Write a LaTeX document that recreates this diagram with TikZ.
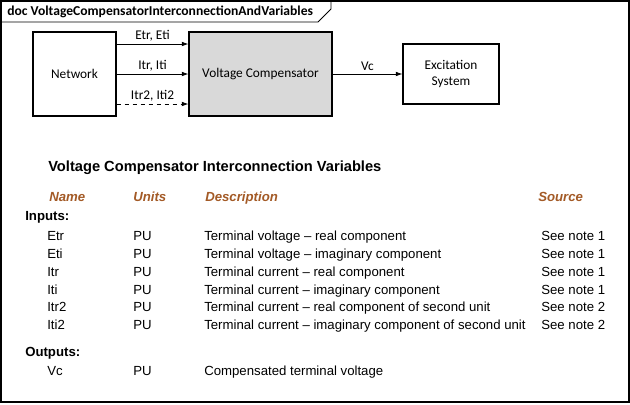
\documentclass[tikz,border=0pt]{standalone}
\usepackage{fontspec}
\setmainfont{Liberation Sans}
\newfontfamily\diagfont{Carlito}
\usetikzlibrary{arrows.meta,positioning}
\definecolor{boxgray}{HTML}{D9D9D9}
\definecolor{headbrown}{HTML}{A35A26}

\begin{document}
\begin{tikzpicture}[x=0.75pt,y=-0.75pt,
  block/.style={draw,line width=0.8pt,inner sep=0pt,align=center,
    font=\diagfont\fontsize{10}{12}\selectfont},
  sig/.style={-{Latex[length=5pt,width=3.5pt]},line width=0.6pt},
  siglbl/.style={font=\diagfont\fontsize{10}{12}\selectfont,inner sep=2pt},
  cell/.style={anchor=base west,inner sep=0pt,font=\fontsize{9.9}{12}\selectfont},
  colhead/.style={cell,text=headbrown,font=\fontsize{9.9}{12}\selectfont\bfseries\itshape},
  grouphead/.style={cell,font=\fontsize{9.9}{12}\selectfont\bfseries}]
\useasboundingbox (0,0) rectangle (630,404);

% Frame with name tab
\draw[line width=0.8pt] (1,1) rectangle (629,402);
\draw[line width=0.6pt] (1,22) -- (318,22) -- (331,9) -- (331,1);
\node[anchor=west,inner sep=0pt,font=\diagfont\fontsize{10.2}{12}\selectfont\bfseries] (doc) at (7,12)
  {doc VoltageCompensatorInterconnectionAndVariables};

% Blocks
\node[block,minimum width=62.25pt,minimum height=63pt] (net) at (74.5,74) {Network};
\node[block,fill=boxgray,minimum width=107.25pt,minimum height=63pt] (comp) at (260.5,74) {Voltage Compensator};
\node[block,minimum width=72pt,minimum height=45pt] (exc) at (451,74) {Excitation\\System};

% Signals into the compensator
\draw[sig] ([yshift=22.5pt]net.east) -- node[siglbl,above] (lE) {Etr, Eti} ([yshift=22.5pt]comp.west);
\draw[sig] (net.east) -- node[siglbl,above] (lI) {Itr, Iti} (comp.west);
\draw[sig,dashed] ([yshift=-22.5pt]net.east) -- node[siglbl,above] (lI2) {Itr2, Iti2} ([yshift=-22.5pt]comp.west);
% Output
\draw[sig] (comp.east) -- node[siglbl,above] (lV) {Vc} (exc.west);

% Table of variables
\node[cell,font=\fontsize{11}{13}\selectfont\bfseries] (ttl) at (48,171) {Voltage Compensator Interconnection Variables};
\node[colhead] (hName) at (49,201.5) {Name};
\node[colhead] (hUnit) at (133,201.5) {Units};
\node[colhead] (hDesc) at (205,201.5) {Description};
\node[colhead] (hSrc) at (538,201.5) {Source};

\node[grouphead] (inp) at (25,220.5) {Inputs:};
\foreach \nm/\dsc/\src [count=\i from 0] in {
  Etr/Terminal voltage – real component/1,
  Eti/Terminal voltage – imaginary component/1,
  Itr/Terminal current – real component/1,
  Iti/Terminal current – imaginary component/1,
  Itr2/Terminal current – real component of second unit/2,
  Iti2/Terminal current – imaginary component of second unit/2}{
  \node[cell] (nm\i) at (47,240.7+17.8*\i) {\nm};
  \node[cell] (un\i) at (133,240.7+17.8*\i) {PU};
  \node[cell] (ds\i) at (204,240.7+17.8*\i) {\dsc};
  \node[cell] (sr\i) at (541,240.7+17.8*\i) {See note \src};
}

\node[grouphead] (outp) at (25,356.5) {Outputs:};
\node[cell] (nmVc) at (47,375.5) {Vc};
\node[cell] (unVc) at (133,375.5) {PU};
\node[cell] (dsVc) at (204,375.5) {Compensated terminal voltage};
\end{tikzpicture}
\end{document}
